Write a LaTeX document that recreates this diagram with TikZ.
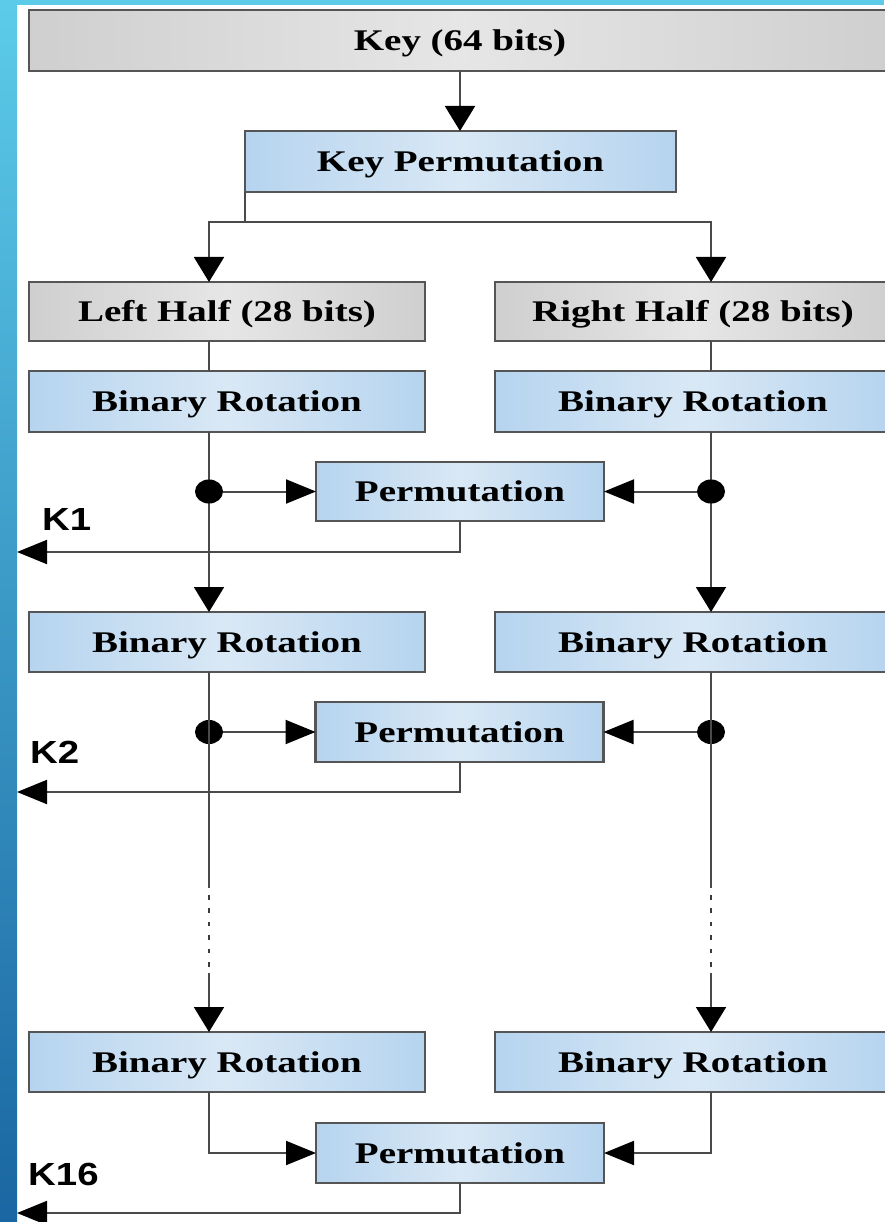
\documentclass[tikz,border=0pt]{standalone}
\usepackage{fontspec}
\setmainfont{Liberation Serif}
\newfontfamily\boxfont{Liberation Serif}[FakeStretch=1.3]
\newfontfamily\keyfont{Liberation Sans}[FakeStretch=1.2]
\usetikzlibrary{arrows.meta,shapes.geometric}

\definecolor{stripTop}{HTML}{5CCBE9}
\definecolor{stripBot}{HTML}{1A66A2}
\definecolor{edge}{HTML}{555555}
\definecolor{wire}{HTML}{4A4A4A}
\definecolor{blueA}{HTML}{B6D4EF}
\definecolor{blueB}{HTML}{D9E8F5}
\definecolor{grayA}{HTML}{CFCFCF}
\definecolor{grayB}{HTML}{E6E6E6}

\tikzset{
  box/.style={draw=edge, line width=2.2pt, inner sep=0pt, outer sep=0pt,
    minimum height=60pt, text height=20pt, text depth=0pt, text=black,
    font=\boxfont\bfseries\fontsize{30}{34}\selectfont},
  bluebox/.style={box, left color=blueA, right color=blueA, middle color=blueB},
  graybox/.style={box, left color=grayA, right color=grayA, middle color=grayB},
  wireline/.style={draw=wire, line width=2pt},
  downarrow/.style={wireline, -{Triangle[length=25pt,width=30pt,color=black]}},
  sidearrow/.style={wireline, -{Triangle[length=30pt,width=24pt,color=black]}},
  dotted gap/.style={draw=wire!80!black, line width=2.6pt, dash pattern=on 4.5pt off 8.9pt},
  junction/.style={ellipse, fill=black, inner sep=0pt, minimum width=28pt, minimum height=24pt},
  klabel/.style={anchor=base west, inner sep=0pt, text=black,
    font=\keyfont\bfseries\fontsize{32}{36}\selectfont}
}

\begin{document}
\begin{tikzpicture}[x=1pt, y=-1pt]
  % page and the blue frame strips
  \fill[white] (0,0) rectangle (884,1222);
  \shade[top color=stripTop, bottom color=stripBot] (0,0) rectangle (17,1222);
  \fill[stripTop] (0,0) rectangle (884,5);
  \useasboundingbox (0,0) rectangle (884,1222);

  % column lines and helper points
  \coordinate (colL) at (209,0);
  \coordinate (colR) at (711,0);
  \coordinate (split) at (245,222);
  \coordinate (dotsTop) at (0,888);
  \coordinate (dotsStart) at (0,895);
  \coordinate (dotsEnd) at (0,968);
  \coordinate (dotsBot) at (0,973);
  \coordinate (k1end) at (17,552);
  \coordinate (k2end) at (17,792);
  \coordinate (k16end) at (17,1213);

  % boxes
  \node[graybox, minimum width=862pt, minimum height=61pt] (key) at (460,40.5) {Key (64 bits)};
  \node[bluebox, minimum width=431pt, minimum height=61pt] (kp) at (460.5,161.5) {Key Permutation};
  \node[graybox, minimum width=396pt, minimum height=59pt] (lh) at (227,311.5) {Left Half (28 bits)};
  \node[graybox, minimum width=396pt, minimum height=59pt] (rh) at (693,311.5) {Right Half (28 bits)};

  \node[bluebox, minimum width=396pt, minimum height=61pt] (br1L) at (227,401.5) {Binary Rotation};
  \node[bluebox, minimum width=396pt, minimum height=61pt] (br1R) at (693,401.5) {Binary Rotation};
  \node[bluebox, minimum width=288pt, minimum height=59pt] (p1) at (460,491.5) {Permutation};

  \node[bluebox, minimum width=396pt, minimum height=60pt] (br2L) at (227,642) {Binary Rotation};
  \node[bluebox, minimum width=396pt, minimum height=60pt] (br2R) at (693,642) {Binary Rotation};
  \node[bluebox, minimum width=288pt, minimum height=60pt] (p2) at (459.5,732) {Permutation};

  \node[bluebox, minimum width=396pt, minimum height=60pt] (br3L) at (227,1062) {Binary Rotation};
  \node[bluebox, minimum width=396pt, minimum height=60pt] (br3R) at (693,1062) {Binary Rotation};
  \node[bluebox, minimum width=288pt, minimum height=60pt] (p3) at (460,1153) {Permutation};

  % key schedule start
  \draw[downarrow] (key.south) -- (key.south |- kp.north);
  \draw[wireline] (kp.south west) -- (split);
  \draw[downarrow] (split) -| (colL |- lh.north);
  \draw[downarrow] (split) -| (colR |- rh.north);
  \draw[wireline] (colL |- lh.south) -- (colL |- br1L.north);
  \draw[wireline] (colR |- rh.south) -- (colR |- br1R.north);

  % round 1
  \draw[downarrow] (colL |- br1L.south) -- (colL |- br2L.north);
  \draw[downarrow] (colR |- br1R.south) -- (colR |- br2R.north);
  \node[junction] (d1L) at (colL |- p1.west) {};
  \node[junction] (d1R) at (colR |- p1.east) {};
  \draw[sidearrow] (d1L) -- (p1.west);
  \draw[sidearrow] (d1R) -- (p1.east);
  \draw[sidearrow] (p1.south) |- (k1end);
  \node[klabel] (k1) at (42,530) {K1};

  % round 2
  \node[junction] (d2L) at (colL |- p2.west) {};
  \node[junction] (d2R) at (colR |- p2.east) {};
  \draw[wireline] (colL |- br2L.south) -- (colL |- dotsTop);
  \draw[wireline] (colR |- br2R.south) -- (colR |- dotsTop);
  \draw[sidearrow] (d2L) -- (p2.west);
  \draw[sidearrow] (d2R) -- (p2.east);
  \draw[sidearrow] (p2.south) |- (k2end);
  \node[klabel] (k2) at (30,763) {K2};

  % elided rounds
  \draw[dotted gap] (colL |- dotsStart) -- (colL |- dotsEnd);
  \draw[dotted gap] (colR |- dotsStart) -- (colR |- dotsEnd);
  \draw[downarrow] (colL |- dotsBot) -- (colL |- br3L.north);
  \draw[downarrow] (colR |- dotsBot) -- (colR |- br3R.north);

  % round 16
  \draw[sidearrow] (colL |- br3L.south) |- (p3.west);
  \draw[sidearrow] (colR |- br3R.south) |- (p3.east);
  \draw[sidearrow] (p3.south) |- (k16end);
  \node[klabel] (k16) at (28,1185) {K16};
\end{tikzpicture}
\end{document}
